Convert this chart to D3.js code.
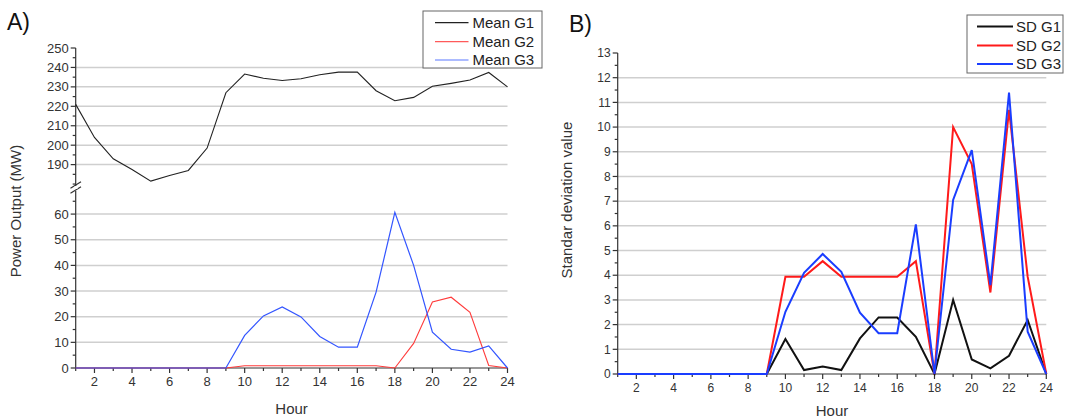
<!DOCTYPE html>
<html>
<head>
<meta charset="utf-8">
<script src="https://cdn.jsdelivr.net/npm/d3@7"></script>
<style>
  html, body { margin: 0; padding: 0; background: #fff; }
  svg { display: block; font-family: "Liberation Sans", Arial, sans-serif; }
</style>
</head>
<body>
<svg id="chart" width="1067" height="418"></svg>
<script>
// Hour of day
const hours = [1,2,3,4,5,6,7,8,9,10,11,12,13,14,15,16,17,18,19,20,21,22,23,24];

// Panel A: mean power output (MW)
const meanG1 = [221,204,193,187.5,181.5,184.4,187,198.5,227,236.6,234.4,233.3,234.2,236.2,237.6,237.6,228,222.9,224.6,230.3,231.8,233.5,237.4,230];
const meanG2 = [0,0,0,0,0,0,0,0,0,0.9,0.9,0.9,0.9,0.9,0.9,0.9,0.9,0,9.6,25.7,27.6,21.7,1,0];
const meanG3 = [0,0,0,0,0,0,0,0,0,12.7,20.3,23.8,19.9,12.3,8.1,8.1,29.6,60.7,40,14,7.3,6.2,8.6,0];

// Panel B: standard deviation
const sdG1 = [0,0,0,0,0,0,0,0,0,1.42,0.16,0.3,0.16,1.44,2.29,2.29,1.51,0,3.0,0.59,0.23,0.74,2.19,0];
const sdG2 = [0,0,0,0,0,0,0,0,0,3.94,3.94,4.57,3.94,3.94,3.94,3.94,4.57,0,10.0,8.5,3.3,10.7,3.94,0];
const sdG3 = [0,0,0,0,0,0,0,0,0,2.52,4.1,4.86,4.14,2.48,1.65,1.65,6.06,0,7.05,9.07,3.6,11.4,1.71,0];

// Tick values
const xTicksMajor = [2,4,6,8,10,12,14,16,18,20,22,24];
const xTicksMinor = [1,3,5,7,9,11,13,15,17,19,21,23];
const yTicksUpper = [190,200,210,220,230,240,250];
const yTicksLower = [0,10,20,30,40,50,60];
const yTicksSD = [0,1,2,3,4,5,6,7,8,9,10,11,12,13];

const svg = d3.select("#chart");
const textCol = "#333";
const gridCol = "#cfcfcf";
const axisCol = "#333";

// ---------- shared helpers ----------
function drawXAxis(g, x, y0, fontSize) {
  g.append("line").attr("x1", x.range()[0]).attr("x2", x.range()[1])
    .attr("y1", y0).attr("y2", y0).attr("stroke", axisCol).attr("stroke-width", 1.2);
  g.selectAll(null).data(xTicksMajor).enter().append("line")
    .attr("x1", d => x(d)).attr("x2", d => x(d))
    .attr("y1", y0).attr("y2", y0 + 5).attr("stroke", axisCol).attr("stroke-width", 1.2);
  g.selectAll(null).data(xTicksMinor).enter().append("line")
    .attr("x1", d => x(d)).attr("x2", d => x(d))
    .attr("y1", y0).attr("y2", y0 + 3).attr("stroke", axisCol).attr("stroke-width", 1.2);
  g.selectAll(null).data(xTicksMajor).enter().append("text")
    .attr("x", d => x(d)).attr("y", y0 + 8 + fontSize * 0.8)
    .attr("text-anchor", "middle").attr("font-size", fontSize).attr("fill", textCol)
    .text(d => d);
}

function drawYAxis(g, y, ticks, x0, minorStep, fontSize, xEnd, gridTicks) {
  const [r0, r1] = y.range();
  g.selectAll(null).data(gridTicks).enter().append("line")
    .attr("x1", x0).attr("x2", xEnd)
    .attr("y1", d => y(d)).attr("y2", d => y(d))
    .attr("stroke", gridCol).attr("stroke-width", 1.5);
  g.append("line").attr("x1", x0).attr("x2", x0)
    .attr("y1", r0).attr("y2", r1).attr("stroke", axisCol).attr("stroke-width", 1.2);
  const dom = y.domain();
  const minors = [];
  for (let v = Math.ceil(dom[0] / minorStep) * minorStep; v <= dom[1] + 1e-9; v += minorStep) {
    if (!ticks.some(t => Math.abs(t - v) < 1e-9)) minors.push(v);
  }
  g.selectAll(null).data(minors).enter().append("line")
    .attr("x1", x0 - 3).attr("x2", x0)
    .attr("y1", d => y(d)).attr("y2", d => y(d))
    .attr("stroke", axisCol).attr("stroke-width", 1.2);
  g.selectAll(null).data(ticks).enter().append("line")
    .attr("x1", x0 - 5).attr("x2", x0)
    .attr("y1", d => y(d)).attr("y2", d => y(d))
    .attr("stroke", axisCol).attr("stroke-width", 1.2);
  g.selectAll(null).data(ticks).enter().append("text")
    .attr("x", x0 - 7).attr("y", d => y(d))
    .attr("dy", "0.35em")
    .attr("text-anchor", "end").attr("font-size", fontSize).attr("fill", textCol)
    .text(d => d);
}

function drawLegend(g, x, y, w, h, items, lineX1, lineX2, textX, rowYs, fontSize, lw) {
  g.append("rect").attr("x", x).attr("y", y).attr("width", w).attr("height", h)
    .attr("fill", "#fff").attr("stroke", "#666").attr("stroke-width", 1);
  items.forEach((it, i) => {
    g.append("line").attr("x1", lineX1).attr("x2", lineX2)
      .attr("y1", rowYs[i]).attr("y2", rowYs[i])
      .attr("stroke", it.color).attr("stroke-width", lw);
    g.append("text").attr("x", textX).attr("y", rowYs[i]).attr("dy", "0.36em")
      .attr("font-size", fontSize).attr("fill", "#222").text(it.label);
  });
}

// ---------- Panel A ----------
const A = svg.append("g");
const xA = d3.scaleLinear().domain([1, 24]).range([75.7, 507.5]);
const yAup = d3.scaleLinear().domain([179, 250]).range([186, 48]);
const yAlo = d3.scaleLinear().domain([0, 69]).range([368, 191]);

drawYAxis(A, yAup, yTicksUpper, 75.7, 5, 13, 507.5, [190,200,210,220,230,240]);
drawYAxis(A, yAlo, yTicksLower, 75.7, 5, 13, 507.5, [10,20,30,40,50,60]);

// axis break marks
[185, 190].forEach(yy => {
  A.append("line").attr("x1", 70.5).attr("x2", 81)
    .attr("y1", yy + 3.2).attr("y2", yy - 3.2)
    .attr("stroke", axisCol).attr("stroke-width", 1.2);
});
A.append("rect").attr("x", 74).attr("y", 186.6).attr("width", 3.5).attr("height", 2.4).attr("fill", "#fff");

drawXAxis(A, xA, 368, 13);

const lineAup = d3.line().x((d, i) => xA(hours[i])).y(d => yAup(d));
const lineAlo = d3.line().x((d, i) => xA(hours[i])).y(d => yAlo(d));

A.append("path").datum(meanG1).attr("d", lineAup)
  .attr("fill", "none").attr("stroke", "#222").attr("stroke-width", 1.1);
A.append("path").datum(meanG2).attr("d", lineAlo)
  .attr("fill", "none").attr("stroke", "#ff3b3b").attr("stroke-width", 1.1);
A.append("path").datum(meanG3).attr("d", lineAlo)
  .attr("fill", "none").attr("stroke", "#3355ff").attr("stroke-width", 1.2);

A.append("text").attr("x", xA(12.5)).attr("y", 414).attr("text-anchor", "middle")
  .attr("font-size", 15).attr("fill", textCol).text("Hour");
A.append("text").attr("transform", "translate(20.5,211) rotate(-90)")
  .attr("text-anchor", "middle").attr("font-size", 15).attr("fill", textCol)
  .text("Power Output (MW)");
A.append("text").attr("x", 7).attr("y", 30).attr("font-size", 23).attr("fill", "#111").text("A)");

drawLegend(A, 423, 11, 119, 57,
  [{label: "Mean G1", color: "#222"}, {label: "Mean G2", color: "#ff5a5a"}, {label: "Mean G3", color: "#5a78ff"}],
  435, 468.5, 472.5, [22.7, 41.7, 60], 15, 1.2);

// ---------- Panel B ----------
const B = svg.append("g");
const xB = d3.scaleLinear().domain([1, 24]).range([617.7, 1046.3]);
const yB = d3.scaleLinear().domain([0, 13]).range([374, 53]);

drawYAxis(B, yB, yTicksSD, 617.7, 0.5, 12, 1046.3, [1,2,3,4,5,6,7,8,9,10,11,12]);
drawXAxis(B, xB, 374, 12);

const lineB = d3.line().x((d, i) => xB(hours[i])).y(d => yB(d));
B.append("path").datum(sdG1).attr("d", lineB)
  .attr("fill", "none").attr("stroke", "#111").attr("stroke-width", 2);
B.append("path").datum(sdG2).attr("d", lineB)
  .attr("fill", "none").attr("stroke", "#ff1a1a").attr("stroke-width", 2);
B.append("path").datum(sdG3).attr("d", lineB)
  .attr("fill", "none").attr("stroke", "#1a3dff").attr("stroke-width", 2);

B.append("text").attr("x", xB(12.5)).attr("y", 416).attr("text-anchor", "middle")
  .attr("font-size", 15).attr("fill", textCol).text("Hour");
B.append("text").attr("transform", "translate(572,200) rotate(-90)")
  .attr("text-anchor", "middle").attr("font-size", 15).attr("fill", textCol)
  .text("Standar deviation value");
B.append("text").attr("x", 569).attr("y", 32).attr("font-size", 23).attr("fill", "#111").text("B)");

drawLegend(B, 967, 15, 96, 58,
  [{label: "SD G1", color: "#111"}, {label: "SD G2", color: "#ff1a1a"}, {label: "SD G3", color: "#1a3dff"}],
  977, 1013, 1016, [26.5, 45.5, 64], 15, 2);
</script>
</body>
</html>
